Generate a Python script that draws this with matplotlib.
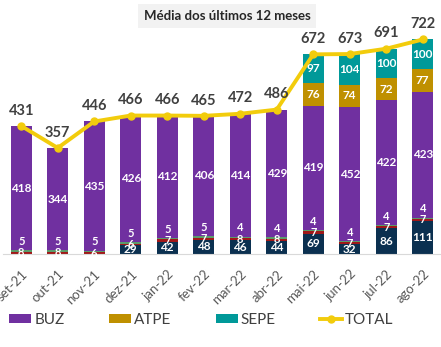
import matplotlib.pyplot as plt
import numpy as np

plt.rcParams['font.family'] = ['Lato', 'DejaVu Sans']

meses = ['set-21', 'out-21', 'nov-21', 'dez-21', 'jan-22', 'fev-22',
         'mar-22', 'abr-22', 'mai-22', 'jun-22', 'jul-22', 'ago-22']
seg_azul = [0, 0, 0, 29, 42, 48, 46, 44, 69, 32, 86, 111]
seg_verm = [8, 8, 6, 6, 7, 7, 8, 8, 7, 7, 7, 7]
seg_verde = [5, 5, 5, 5, 5, 5, 4, 4, 4, 4, 4, 4]
buz = [418, 344, 435, 426, 412, 406, 414, 429, 419, 452, 422, 423]
atpe = [0, 0, 0, 0, 0, 0, 0, 0, 76, 74, 72, 77]
sepe = [0, 0, 0, 0, 0, 0, 0, 0, 97, 104, 100, 100]
total = [431, 357, 446, 466, 466, 465, 472, 486, 672, 673, 691, 722]

cores = {'azul': '#0B3050', 'verm': '#A01818', 'verde': '#5B9B6B',
         'buz': '#7030A0', 'atpe': '#BF9000', 'sepe': '#009999',
         'total': '#F2CC0C'}

fig = plt.figure(figsize=(4.41, 3.47), dpi=100)
ax = fig.add_axes([0.0068, 0.268, 0.9932, 0.685])

x = np.arange(len(meses))
w = 0.58
base = np.zeros(len(meses))
series = [('azul', seg_azul, None), ('verm', seg_verm, None), ('verde', seg_verde, None),
          ('buz', buz, 'BUZ'), ('atpe', atpe, 'ATPE'), ('sepe', sepe, 'SEPE')]
for nome, vals, rot in series:
    vals = np.array(vals, dtype=float)
    ax.bar(x, vals, w, bottom=base, color=cores[nome], label=rot, zorder=2)
    for i, v in enumerate(vals):
        if v == 0:
            continue
        if nome == 'verde':
            # rótulo pequeno deslocado para cima do segmento
            y = base[i] + v + 30
        else:
            y = base[i] + v / 2
        ax.text(x[i], y, f'{int(v)}', ha='center', va='center', color='white',
                fontsize=8 if nome in ('verm', 'verde') else 8.5,
                fontweight='bold', zorder=4)
    base = base + vals

ax.plot(x, total, color=cores['total'], lw=2.8, marker='o', ms=5, zorder=3, label='TOTAL')
for i, t in enumerate(total):
    ax.annotate(f'{t}', (x[i], t), xytext=(0, 6), textcoords='offset points',
                ha='center', va='bottom', fontsize=10.5, fontweight='bold', color='#404040')

ax.set_xlim(-0.5, len(meses) - 0.5)
ax.set_ylim(0, 800)
ax.set_yticks([])
for s in ['top', 'left', 'right']:
    ax.spines[s].set_visible(False)
ax.spines['bottom'].set_color('#D9D9D9')
ax.set_xticks(x)
ax.set_xticklabels(meses, rotation=45, ha='right', rotation_mode='anchor',
                   fontsize=9.5, color='#595959')
ax.tick_params(axis='x', length=0, pad=10)

fig.text(0.515, 0.955, 'Média dos últimos 12 meses', ha='center', va='center',
         fontsize=9.5, fontweight='bold', color='#262626',
         bbox=dict(boxstyle='square,pad=0.45', fc='#F2F2F2', ec='none'))

handles, labels = ax.get_legend_handles_labels()
ordem = ['BUZ', 'ATPE', 'SEPE', 'TOTAL']
hl = [handles[labels.index(k)] for k in ordem]
fig.legend(hl, ordem, loc='center left', bbox_to_anchor=(0.01, 0.078), ncol=4,
           frameon=False, fontsize=11, handlelength=1.45, handleheight=0.6,
           handletextpad=0.2, columnspacing=2.9, labelcolor='#404040',
           borderaxespad=0, borderpad=0.3)

fig.savefig('out.png', dpi=100)
